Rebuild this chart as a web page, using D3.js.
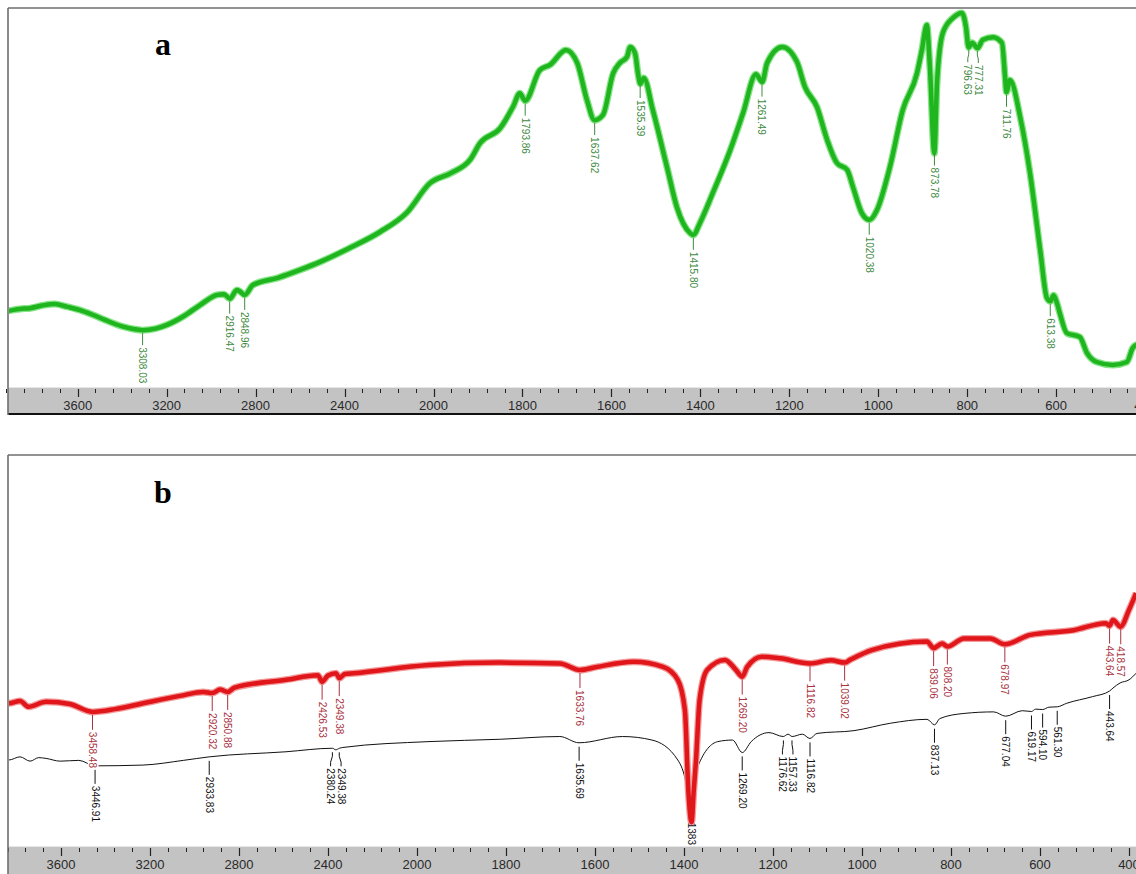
<!DOCTYPE html>
<html><head><meta charset="utf-8">
<script src="https://cdn.jsdelivr.net/npm/d3@7"></script>
<style>body{margin:0;background:#fff;overflow:hidden}</style>
</head><body>
<svg id="c" width="1136" height="874"></svg>
<script>
// ---------- DATA ----------
const tickLabels = [3600,3200,2800,2400,2000,1800,1600,1400,1200,1000,800,600,400];

// panel a : [wavenumber, transmittance]
const aSpectrum = [[3990,19.8],[3913,20.1],[3860,20.6],[3814,20.8],[3760,21.5],[3702,21.9],[3650,21.2],[3589,20.3],[3530,19.0],[3477,17.7],[3400,16.0],[3351,15.3],[3308,15.0],[3250,15.4],[3198,16.4],[3120,18.8],[3050,21.6],[2973,24.3],[2942,24.5],[2916,23.3],[2884,25.6],[2870,25.2],[2849,24.3],[2812,26.9],[2700,28.8],[2600,30.9],[2510,33.0],[2380,36.6],[2241,40.9],[2120,46.0],[2016,53.8],[1960,56.5],[1918,59.9],[1895,64.4],[1850,68.3],[1821,74.0],[1806,77.5],[1794,75.5],[1761,83.6],[1738,85.0],[1702,88.9],[1677,85.5],[1655,75.7],[1638,70.4],[1619,71.8],[1596,82.8],[1581,85.5],[1565,87.1],[1558,89.7],[1547,88.1],[1540,82.5],[1535,80.0],[1527,81.5],[1507,73.1],[1475,58.0],[1453,47.5],[1423,40.6],[1416,40.1],[1401,43.3],[1372,51.2],[1333,62.5],[1304,72.3],[1275,82.5],[1261,80.5],[1250,85.5],[1216,89.7],[1183,85.8],[1165,79.2],[1138,73.9],[1115,65.2],[1093,59.1],[1070,57.3],[1057,52.8],[1037,45.9],[1020,44.1],[1003,46.7],[974,58.0],[945,73.1],[913,82.8],[902,88.9],[891,95.5],[884,84.4],[874,61.7],[868,80.2],[855,93.4],[832,97.4],[812,98.7],[803,95.0],[797,89.6],[789,90.8],[777,89.4],[765,91.6],[742,92.3],[722,90.8],[715,81.8],[712,77.8],[704,81.0],[681,71.2],[659,56.5],[636,36.1],[621,23.5],[613,22.6],[606,24.2],[598,22.0],[592,19.5],[576,14.2],[547,13.2],[531,9.0],[509,6.6],[473,5.8],[441,6.6],[428,10.3],[420,11.1],[400,11.5]];
const aPeaks = ["3308.03","2916.47","2848.96","1793.86","1637.62","1535.39","1415.80","1261.49","1020.38","873.78","796.63","777.31","711.76","613.38"];

// panel b : red (upper) and black (lower) spectra
const bRedSpectrum = [[3900,36.6],[3834,36.5],[3784,37.1],[3746,35.6],[3667,36.9],[3560,36.3],[3458,34.3],[3357,35.0],[3231,36.5],[3065,38.4],[2960,39.4],[2920,39.1],[2885,40.0],[2851,39.4],[2820,40.5],[2589,42.5],[2445,43.7],[2427,42.0],[2400,43.6],[2364,44.2],[2349,42.9],[2324,44.0],[2283,44.2],[1973,46.3],[1813,46.9],[1679,46.7],[1634,45.0],[1596,45.8],[1513,47.1],[1447,45.8],[1414,42.5],[1398,34.8],[1390,13.6],[1383,6.1],[1378,14.3],[1373,22.0],[1365,37.3],[1348,45.0],[1308,47.6],[1283,45.0],[1269,43.3],[1258,45.8],[1225,48.4],[1184,48.0],[1117,46.7],[1070,47.5],[1039,46.9],[1027,47.6],[978,50.1],[854,52.3],[839,50.6],[820,51.8],[808,51.0],[771,53.1],[712,53.1],[679,51.6],[622,54.0],[524,55.2],[452,57.0],[444,56.3],[436,57.8],[419,56.1],[400,60.4],[384,64.7]];
const bBlackSpectrum = [[3900,22.0],[3834,22.0],[3784,22.8],[3739,21.7],[3700,22.6],[3667,22.4],[3604,21.7],[3520,21.9],[3447,20.5],[3231,20.7],[3050,21.9],[2934,22.8],[2589,24.1],[2380,25.0],[2365,24.6],[2349,25.0],[2333,25.2],[1973,26.7],[1813,27.3],[1679,28.0],[1636,26.4],[1538,28.0],[1472,27.1],[1414,22.0],[1394,15.2],[1384,7.2],[1369,20.3],[1324,26.7],[1291,27.1],[1269,23.9],[1249,26.7],[1209,29.0],[1177,28.0],[1166,28.6],[1157,28.0],[1134,28.6],[1117,27.5],[1101,28.8],[1018,29.5],[936,31.4],[854,32.4],[837,31.0],[825,32.6],[771,33.9],[704,34.3],[677,33.2],[640,34.6],[619,34.4],[610,35.0],[594,34.9],[580,35.5],[561,35.6],[540,36.5],[482,38.2],[444,39.6],[436,40.4],[420,41.7],[400,42.5],[384,44.2]];
const bRedPeaks = ["3458.48","2920.32","2850.88","2426.53","2349.38","1633.76","1269.20","1116.82","1039.02","839.06","808.20","678.97","443.64","418.57"];
const bBlackPeaks = ["3446.91","2933.83","2380.24","2349.38","1635.69","1383","1269.20","1176.62","1157.33","1116.82","837.13","677.04","619.17","594.10","561.30","443.64"];

// ---------- DRAW ----------
const svg = d3.select("#c");
const W = 1136;

function interp(series, wn){
  for (let i=0;i<series.length-1;i++){
    const a=series[i], b=series[i+1];
    if (wn<=a[0] && wn>=b[0]) return a[1] + (b[1]-a[1])*(a[0]-wn)/(a[0]-b[0]);
  }
  return series[series.length-1][1];
}

function makePanel(cfg){
  const g = svg.append("g");
  const x = d3.scaleLinear().domain([4000,2000,400])
     .range([cfg.x2000-5*cfg.step, cfg.x2000, cfg.x2000+8*cfg.step]);
  const y = d3.scaleLinear().domain([0,100]).range([cfg.bandTop, cfg.top]);
  const clipId = "clip"+cfg.id;
  svg.append("clipPath").attr("id",clipId).append("rect")
     .attr("x",cfg.left+1).attr("y",cfg.top+1).attr("width",W-cfg.left).attr("height",cfg.bandTop-cfg.top-1);
  const plot = g.append("g").attr("clip-path",`url(#${clipId})`);
  const line = d3.line().x(d=>x(d[0])).y(d=>y(d[1])).curve(d3.curveMonotoneX);
  cfg.series.forEach(s=>{
    if (s.halo) plot.append("path").datum(s.data).attr("d",line).attr("fill","none")
       .attr("stroke",s.halo).attr("stroke-width",s.width+2.5).attr("stroke-linejoin","round");
    plot.append("path").datum(s.data).attr("d",line).attr("fill","none")
       .attr("stroke",s.color).attr("stroke-width",s.width).attr("stroke-linejoin","round");
  });
  // labels
  cfg.series.forEach(s=>{
    if (!s.peaks) return;
    const items = s.peaks.map(p=>{
      const wn=+p, px=x(wn), cy=y(interp(s.data,wn));
      return {p, px, lx:px, top:cy+s.gap};
    }).sort((a,b)=>a.px-b.px);
    for (let it=0; it<30; it++) for (let i=1;i<items.length;i++){
      const d=items[i].lx-items[i-1].lx;
      if (d<10.5){ const sh=(10.5-d)/2; items[i].lx+=sh; items[i-1].lx-=sh; }
    }
    items.forEach(o=>{
      const t = plot.append("text")
        .attr("font-family","Liberation Sans, Arial, sans-serif").attr("font-size",10)
        .attr("fill",s.labelColor).attr("text-anchor","start").attr("dy","0.35em")
        .text(o.p);
      const len = t.node().getComputedTextLength();
      let start = o.top + s.len + 2;
      let drawLine = true;
      if (start + len > cfg.bandTop - 1){ start = cfg.bandTop - 1 - len; drawLine=false; }
      else {
        t.attr("stroke","#fff").attr("stroke-width",3).attr("paint-order","stroke");
      }
      t.attr("transform",`translate(${o.lx},${start}) rotate(90)`);
      if (drawLine){
        let pts;
        if (Math.abs(o.lx-o.px)<0.5) pts=[[o.px,o.top],[o.px,o.top+s.len]];
        else pts=[[o.px,o.top],[o.px,o.top+4],[o.lx,o.top+s.len-4],[o.lx,o.top+s.len]];
        plot.insert("path","text").attr("d",d3.line()(pts)).attr("fill","none")
          .attr("stroke",s.labelColor).attr("stroke-width",1);
      }
    });
  });
  // axis band
  g.append("rect").attr("x",cfg.left).attr("y",cfg.bandTop).attr("width",W-cfg.left)
    .attr("height",cfg.bandBottom-cfg.bandTop).attr("fill","#c3c3c3");
  g.append("line").attr("x1",cfg.left).attr("x2",W).attr("y1",cfg.bandTop+0.5).attr("y2",cfg.bandTop+0.5)
    .attr("stroke","#e6e6e6").attr("stroke-width",1);
  const minor = d3.range(2000,4001,80).concat(d3.range(400,2000,40))
     .filter(v=>tickLabels.indexOf(v)<0);
  g.selectAll(null).data(minor).join("line")
    .attr("x1",d=>Math.round(x(d))+0.5).attr("x2",d=>Math.round(x(d))+0.5)
    .attr("y1",cfg.bandTop+2).attr("y2",cfg.bandTop+6).attr("stroke","#222").attr("stroke-width",1);
  g.selectAll(null).data(tickLabels).join("line")
    .attr("x1",d=>Math.round(x(d))+0.5).attr("x2",d=>Math.round(x(d))+0.5)
    .attr("y1",cfg.bandTop+2).attr("y2",cfg.bandTop+10).attr("stroke","#222").attr("stroke-width",1.2);
  g.selectAll(null).data(tickLabels).join("text")
    .attr("x",d=>x(d)).attr("y",cfg.bandTop+22.5).attr("text-anchor","middle")
    .attr("font-family","Liberation Sans, Arial, sans-serif").attr("font-size",13).attr("fill","#2a2a2a")
    .text(d=>d);
  if (cfg.bottomLine) g.append("line").attr("x1",cfg.left).attr("x2",W)
    .attr("y1",cfg.bandBottom+1).attr("y2",cfg.bandBottom+1).attr("stroke","#111").attr("stroke-width",2);
  // frame
  g.append("line").attr("x1",cfg.left).attr("x2",W).attr("y1",cfg.top).attr("y2",cfg.top)
    .attr("stroke","#6e6e6e").attr("stroke-width",1.6);
  g.append("line").attr("x1",cfg.left).attr("x2",cfg.left).attr("y1",cfg.top).attr("y2",cfg.bandBottom+2)
    .attr("stroke","#6e6e6e").attr("stroke-width",1.6);
  // panel letter
  g.append("text").attr("x",cfg.letterX).attr("y",cfg.letterY).attr("text-anchor","middle")
    .attr("font-family","Liberation Serif, Times New Roman, serif").attr("font-weight","bold")
    .attr("font-size",32).attr("fill","#000").text(cfg.letter);
}

makePanel({id:"a", top:8, left:8, bandTop:387, bandBottom:413, bottomLine:true,
  x2000:433.5, step:88.96, letter:"a", letterX:163, letterY:55,
  series:[{data:aSpectrum, color:"#1fb51f", halo:"#86e486", width:4.5,
           peaks:aPeaks, labelColor:"#3f8a3f", gap:3, len:12}]});

makePanel({id:"b", top:455, left:8, bandTop:846, bandBottom:874, bottomLine:false,
  x2000:417, step:89, letter:"b", letterX:163, letterY:503,
  series:[{data:bBlackSpectrum, color:"#111", width:1,
           peaks:bBlackPeaks, labelColor:"#111", gap:4, len:14},
          {data:bRedSpectrum, color:"#e0161b", halo:"#f39a9a", width:4.5,
           peaks:bRedPeaks, labelColor:"#a8323e", gap:3, len:15}]});
</script>
</body></html>
